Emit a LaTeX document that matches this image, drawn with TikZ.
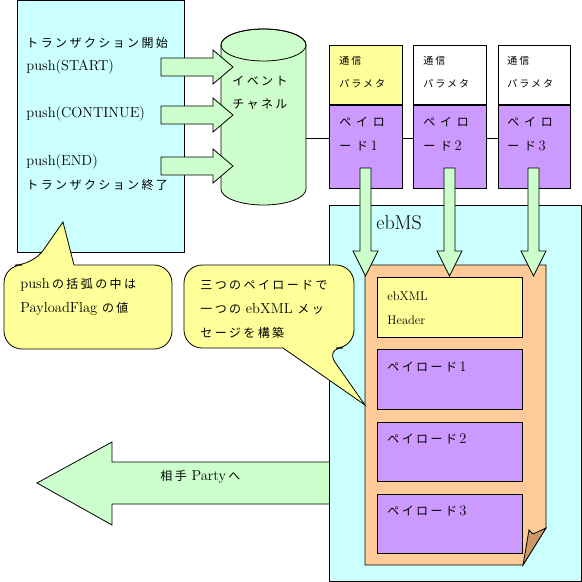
\documentclass[tikz,border=0pt]{standalone}
\usepackage{fontspec}
\newfontfamily\jpfont{Noto Sans CJK JP}[LetterSpace=20]
\newfontfamily\jpwide{Noto Sans CJK JP}[LetterSpace=40]
\newcommand\jp[1]{{\jpfont\fontsize{12}{15}\selectfont #1}}
\newcommand\jpw[1]{{\jpwide\fontsize{12}{15}\selectfont #1}}
\definecolor{cyanbg}{HTML}{CCFFFF}
\definecolor{greenarr}{HTML}{CCFFCC}
\definecolor{yellowbox}{HTML}{FFFF99}
\definecolor{purplebox}{HTML}{CC99FF}
\definecolor{orangedoc}{HTML}{FFCC99}
\definecolor{folddoc}{HTML}{CC9966}
\tikzset{
    box/.style={draw, inner sep=0pt, anchor=north west},
    txt/.style={anchor=west, inner sep=0pt, font=\fontsize{14.5}{16}\selectfont},
    small/.style={anchor=west, inner sep=0pt, font=\fontsize{10}{12}\selectfont},
    blockarrow/.style={draw, fill=greenarr},
    callout/.style={draw, fill=yellowbox}
}
\begin{document}
\begin{tikzpicture}[x=1pt, y=-1pt, line width=0.8pt]
    \useasboundingbox (0,0) rectangle (582,582);

    \node[box, fill=cyanbg, minimum width=167, minimum height=252] (T) at (17,0) {};
    \node[txt] (T1) at (26,43) {\jp{トランザクション開始}};
    \node[txt] (T2) at (26,67) {push(START)};
    \node[txt] (T3) at (26,114) {push(CONTINUE)};
    \node[txt] (T4) at (26,162) {push(END)};
    \node[txt] (T5) at (26,185) {\jp{トランザクション終了}};

    % event channel
    \draw[fill=greenarr] (221,45) -- (221,189) arc[start angle=180, end angle=0, x radius=42.5, y radius=16]
        -- (306,45) arc[start angle=0, end angle=-180, x radius=42.5, y radius=16] -- cycle;
    \draw (263.5,45) ellipse[x radius=42.5, y radius=16];
    \coordinate (E) at (306,138);
    \node[txt] (E1) at (232,81) {\jp{イベント}};
    \node[txt] (E2) at (232,104) {\jp{チャネル}};

    \draw[blockarrow] (161,58) -- (213,58) -- (213,50) -- (233,67) -- (213,84) -- (213,76) -- (161,76) -- cycle;
    \draw[blockarrow] (161,106) -- (213,106) -- (213,98) -- (233,115) -- (213,132) -- (213,124) -- (161,124) -- cycle;
    \draw[blockarrow] (161,157) -- (213,157) -- (213,149) -- (233,166) -- (213,183) -- (213,175) -- (161,175) -- cycle;

    % payloads
    \node[box, fill=yellowbox, minimum width=73, minimum height=59] (H1) at (329,45) {};
    \node[box, fill=purplebox, minimum width=73, minimum height=84] (P1) at (329,104) {};
    \node[box, fill=white, minimum width=73, minimum height=59] (H2) at (413,45) {};
    \node[box, fill=purplebox, minimum width=73, minimum height=84] (P2) at (413,104) {};
    \node[box, fill=white, minimum width=72, minimum height=59] (H3) at (498,45) {};
    \node[box, fill=purplebox, minimum width=72, minimum height=84] (P3) at (498,104) {};
    \draw[line width=1.8pt] (H1.south west) -- (H1.south east);
    \draw[line width=1.8pt] (H2.south west) -- (H2.south east);
    \draw[line width=1.8pt] (H3.south west) -- (H3.south east);
    \draw (E) -- (E -| P1.west);
    \draw (P1.east |- E) -- (P2.west |- E);
    \draw (P2.east |- E) -- (P3.west |- E);

    \node[small] (H1a) at (339,61) {\jpfont 通信};
    \node[small] (H1b) at (339,84) {\jpfont パラメタ};
    \node[small] (H2a) at (423,61) {\jpfont 通信};
    \node[small] (H2b) at (423,84) {\jpfont パラメタ};
    \node[small] (H3a) at (507,61) {\jpfont 通信};
    \node[small] (H3b) at (507,84) {\jpfont パラメタ};
    \node[txt] (P1a) at (339,122) {\jpw{ペイロ}};
    \node[txt] (P1b) at (339,146) {\jpw{ード}\,1};
    \node[txt] (P2a) at (423,122) {\jpw{ペイロ}};
    \node[txt] (P2b) at (423,146) {\jpw{ード}\,2};
    \node[txt] (P3a) at (507,122) {\jpw{ペイロ}};
    \node[txt] (P3b) at (507,146) {\jpw{ード}\,3};

    % to the other party
    \draw[blockarrow] (330,462) -- (112,462) -- (112,442) -- (37,483) -- (112,525) -- (112,504) -- (330,504) -- cycle;
    \node[txt] (R) at (160,477) {\jp{相手} Party\,\jp{へ}};

    % ebMS
    \node[box, fill=cyanbg, minimum width=252, minimum height=376] (M) at (329,205) {};
    \node[anchor=west, inner sep=0pt, font=\fontsize{20}{22}\selectfont] (M1) at (376,223) {ebMS};
    \draw[fill=orangedoc] (365,265) -- (546,265) -- (546,528) -- (523,565) -- (365,565) -- cycle;
    \draw[fill=folddoc] (546,528) -- (533,534) -- (529,530) -- (523,565) -- cycle;
    \node[box, fill=yellowbox, minimum width=145, minimum height=60] (D0) at (377,277) {};
    \node[box, fill=purplebox, minimum width=145, minimum height=60] (D1) at (377,349) {};
    \node[box, fill=purplebox, minimum width=145, minimum height=59] (D2) at (377,422) {};
    \node[box, fill=purplebox, minimum width=145, minimum height=59] (D3) at (377,494) {};
    \node[txt, font=\fontsize{12.5}{14}\selectfont] (D0a) at (387,296) {ebXML};
    \node[txt, font=\fontsize{12.5}{14}\selectfont] (D0b) at (387,320) {Header};
    \node[txt] (D1a) at (387,367) {\jp{ペイロード}\,1};
    \node[txt] (D2a) at (387,439) {\jp{ペイロード}\,2};
    \node[txt] (D3a) at (387,511) {\jp{ペイロード}\,3};

    \draw[blockarrow] (360,168) -- (360,251) -- (353,251) -- (365.5,276) -- (378,251) -- (371,251) -- (371,168) -- cycle;
    \draw[blockarrow] (444,168) -- (444,251) -- (437,251) -- (449.5,276) -- (462,251) -- (455,251) -- (455,168) -- cycle;
    \draw[blockarrow] (528,168) -- (528,251) -- (521,251) -- (533.5,276) -- (546,251) -- (539,251) -- (539,168) -- cycle;

    % callouts
    \draw[callout] (4,307) [rounded corners=18] -- (4,265) -- (33,265) [sharp corners] -- (63,222) -- (74,265)
        [rounded corners=18] -- (172,265) -- (172,349) -- (4,349) -- cycle;
    \node[txt] (C1) at (20,285) {push\,\jp{の括弧の中は}};
    \node[txt] (C2) at (20,309) {PayloadFlag \jp{の値}};

    \draw[callout] (184,306) [rounded corners=18] -- (184,265) -- (354,265) -- (354,348) -- (325,348) [sharp corners]
        -- (365,405) -- (283,348) [rounded corners=18] -- (184,348) -- cycle;
    \node[txt] (C3) at (200,285) {\jp{三つのペイロードで}};
    \node[txt] (C4) at (200,309) {\jp{一つの} ebXML \jp{メッ}};
    \node[txt] (C5) at (200,333) {\jp{セージを構築}};
\end{tikzpicture}
\end{document}
